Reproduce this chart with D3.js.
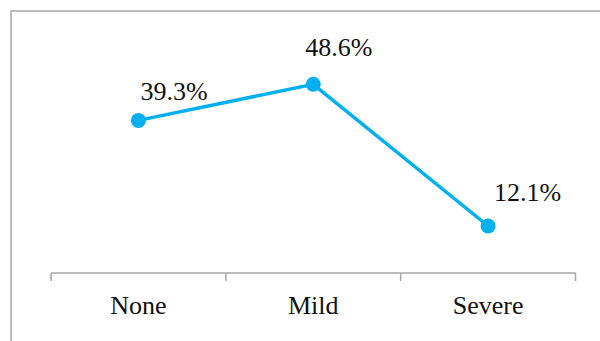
<!DOCTYPE html>
<html>
<head>
<meta charset="utf-8">
<script src="https://cdn.jsdelivr.net/npm/d3@7"></script>
<style>
  body { margin: 0; background: #fff; }
</style>
</head>
<body>
<div id="chart"></div>
<script>
"use strict"

/* data */
let categories = ["None", "Mild", "Severe"];
let values = [39.3, 48.6, 12.1];

/* label nudges, px from the point (left edge, baseline) */
let labelDx = [2, -8, 6];
let labelDy = [-20, -28, -25];

let width = 600;
let height = 341;
let serif = "'Times New Roman', 'Liberation Serif', Times, serif";

let svg = d3.select("#chart")
  .append("svg")
  .attr("width", width)
  .attr("height", height);

/* outer frame (runs off the right and bottom edge) */
let frame = svg.append("rect")
  .attr("x", 11)
  .attr("y", 11)
  .attr("width", 620)
  .attr("height", 360)
  .attr("fill", "none")
  .attr("stroke", "#a6a6a6")
  .attr("stroke-width", 1.5);

let x = d3.scaleBand()
  .domain(categories)
  .range([51, 575.5]);

let y = d3.scaleLinear()
  .domain([0, 60])
  .range([273, 40]);

/* category axis */
let axis = svg.append("g")
  .attr("transform", "translate(0,273)")
  .call(d3.axisBottom(x).tickSize(0).tickPadding(0).tickFormat(""));

axis.select(".domain")
  .attr("stroke", "#a6a6a6")
  .attr("stroke-width", 1.5)
  .attr("d", "M" + x.range()[0] + ",0H" + x.range()[1]);

/* tick marks at band edges */
let edges = categories.map(c => x(c)).concat([x.range()[1]]);
axis.selectAll(".edge")
  .data(edges)
  .enter()
  .append("line")
  .attr("class", "edge")
  .attr("x1", d => d)
  .attr("x2", d => d)
  .attr("y1", 0)
  .attr("y2", 8)
  .attr("stroke", "#a6a6a6")
  .attr("stroke-width", 1.5);

/* category labels */
svg.selectAll(".cat")
  .data(categories)
  .enter()
  .append("text")
  .attr("class", "cat")
  .attr("x", d => x(d) + x.bandwidth() / 2)
  .attr("y", 314)
  .attr("text-anchor", "middle")
  .style("font-family", serif)
  .style("font-size", "26px")
  .attr("fill", "#111")
  .text(d => d);

let pts = categories.map((c, i) => ({ c: c, v: values[i], i: i }));

/* line */
let line = d3.line()
  .x(d => x(d.c) + x.bandwidth() / 2)
  .y(d => y(d.v));

svg.append("path")
  .datum(pts)
  .attr("d", line)
  .attr("fill", "none")
  .attr("stroke", "#00b0f0")
  .attr("stroke-width", 3.5);

/* markers */
svg.selectAll(".dot")
  .data(pts)
  .enter()
  .append("circle")
  .attr("class", "dot")
  .attr("cx", d => x(d.c) + x.bandwidth() / 2)
  .attr("cy", d => y(d.v))
  .attr("r", 7.5)
  .attr("fill", "#00b0f0");

/* value labels */
svg.selectAll(".val")
  .data(pts)
  .enter()
  .append("text")
  .attr("class", "val")
  .attr("x", d => x(d.c) + x.bandwidth() / 2 + labelDx[d.i])
  .attr("y", d => y(d.v) + labelDy[d.i])
  .style("font-family", serif)
  .style("font-size", "26px")
  .attr("fill", "#111")
  .text(d => d.v.toFixed(1) + "%");
</script>
</body>
</html>
